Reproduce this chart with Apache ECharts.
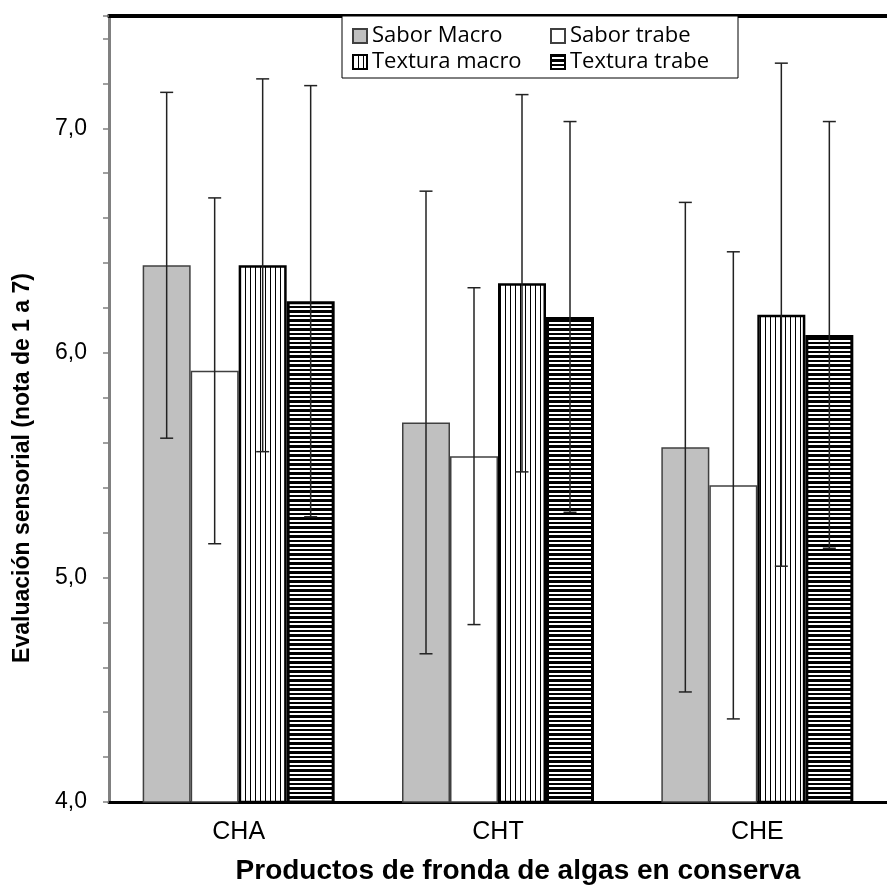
<!DOCTYPE html>
<html>
<head>
<meta charset="utf-8">
<script src="https://cdn.jsdelivr.net/npm/echarts@6/dist/echarts.min.js"></script>
<style>
html, body { margin: 0; padding: 0; background: #fff; }
#chart { width: 887px; height: 892px; }
</style>
</head>
<body>
<div id="chart"></div>
<script>
var categories = ['CHA', 'CHT', 'CHE'];
var saborMacro = [6.39, 5.69, 5.58];
var saborMacroErr = [0.77, 1.03, 1.09];
var saborTrabe = [5.92, 5.54, 5.41];
var saborTrabeErr = [0.77, 0.75, 1.04];
var texturaMacro = [6.39, 6.31, 6.17];
var texturaMacroErr = [0.83, 0.84, 1.12];
var texturaTrabe = [6.23, 6.16, 6.08];
var texturaTrabeErr = [0.96, 0.87, 0.95];
var seriesNames = ['Sabor Macro', 'Sabor trabe', 'Textura macro', 'Textura trabe'];

var BAR_W = 48;
var FONT = '"Liberation Sans", Arial, sans-serif';

// relleno con rayas (como en excel)
function makePattern(w, h, draw) {
    var c = document.createElement('canvas');
    c.width = w;
    c.height = h;
    var ctx = c.getContext('2d');
    ctx.fillStyle = '#fff';
    ctx.fillRect(0, 0, w, h);
    ctx.fillStyle = '#000';
    draw(ctx);
    return c;
}
var vertPattern = makePattern(5, 4, function (ctx) { ctx.fillRect(0, 0, 1, 4); });
var horizPattern = makePattern(4, 9, function (ctx) {
    ctx.fillRect(0, 0, 4, 2);
    ctx.fillRect(0, 4, 4, 3);
});

function barSeries(name, values, style) {
    return {
        name: name,
        type: 'bar',
        barWidth: BAR_W,
        barGap: '0%',
        data: values,
        itemStyle: style
    };
}

// barras de error (desviacion)
function errorSeries(means, errs, slot) {
    return {
        type: 'custom',
        name: 'err' + slot,
        z: 10,
        silent: true,
        data: means.map(function (m, i) { return [i, m, errs[i]]; }),
        renderItem: function (params, api) {
            var c = api.value(0), m = api.value(1), e = api.value(2);
            var x = api.coord([c, m])[0] + (slot - 1.5) * BAR_W;
            var hi = api.coord([c, m + e])[1];
            var lo = api.coord([c, m - e])[1];
            var st = { stroke: '#222', lineWidth: 1.5 };
            return {
                type: 'group',
                children: [
                    { type: 'line', shape: { x1: x, y1: hi, x2: x, y2: lo }, style: st },
                    { type: 'line', shape: { x1: x - 6.5, y1: hi, x2: x + 6.5, y2: hi }, style: st },
                    { type: 'line', shape: { x1: x - 6.5, y1: lo, x2: x + 6.5, y2: lo }, style: st }
                ]
            };
        }
    };
}

var option = {
    animation: false,
    backgroundColor: '#fff',
    grid: {
        left: 109,
        top: 16,
        width: 787,
        height: 786
    },
    legend: {
        data: seriesNames,
        left: 342,
        top: 16,
        orient: 'horizontal',
        width: 400,
        icon: 'rect',
        itemWidth: 14,
        itemHeight: 14,
        itemGap: 0,
        padding: [7, 6, 3, 10],
        borderColor: '#000',
        borderWidth: 1,
        backgroundColor: '#fff',
        formatter: function (name) {
            var i = seriesNames.indexOf(name);
            return (i % 2 === 0 ? '{a|' : '{b|') + name + '}';
        },
        textStyle: {
            fontFamily: '"Open Sans", sans-serif',
            fontSize: 22,
            lineHeight: 26,
            color: '#000',
            rich: {
                a: { width: 178, fontFamily: '"Open Sans", sans-serif', fontSize: 22, lineHeight: 26 },
                b: { width: 162, fontFamily: '"Open Sans", sans-serif', fontSize: 22, lineHeight: 26 }
            }
        }
    },
    xAxis: [{
        type: 'category',
        data: categories,
        name: 'Productos de fronda de algas en conserva',
        nameLocation: 'middle',
        nameGap: 55,
        nameTextStyle: {
            fontFamily: FONT,
            fontWeight: 'bold',
            fontSize: 28,
            color: '#000',
            padding: [0, 0, 0, 40]
        },
        axisLine: { lineStyle: { color: '#000', width: 3 } },
        axisTick: { length: 8, lineStyle: { color: '#808080', width: 1.5 } },
        axisLabel: {
            margin: 18,
            fontFamily: FONT,
            fontSize: 25,
            color: '#000'
        }
    }, {
        // linea negra de arriba
        type: 'category',
        data: categories,
        position: 'top',
        axisLine: { lineStyle: { color: '#000', width: 4 } },
        axisTick: { show: false },
        axisLabel: { show: false }
    }],
    yAxis: {
        type: 'value',
        min: 4,
        max: 7.5,
        interval: 0.2,
        name: 'Evaluación sensorial (nota de 1 a 7)',
        nameLocation: 'middle',
        nameGap: 75,
        nameTextStyle: {
            fontFamily: FONT,
            fontWeight: 'bold',
            fontSize: 23,
            color: '#000',
            padding: [0, 118, 0, 0]
        },
        axisLine: { show: true, lineStyle: { color: '#808080', width: 3 } },
        axisTick: { show: true, length: 6, lineStyle: { color: '#808080', width: 1.5 } },
        splitLine: { show: false },
        axisLabel: {
            margin: 22,
            fontFamily: FONT,
            fontSize: 23,
            color: '#000',
            formatter: function (v) {
                if (Math.abs(v - Math.round(v)) > 1e-6) return '';
                return v.toFixed(1).replace('.', ',');
            }
        }
    },
    series: [
        barSeries('Sabor Macro', saborMacro, { color: '#c0c0c0', borderColor: '#404040', borderWidth: 1.5 }),
        barSeries('Sabor trabe', saborTrabe, { color: '#fff', borderColor: '#404040', borderWidth: 1.5 }),
        barSeries('Textura macro', texturaMacro, { color: { image: vertPattern, repeat: 'repeat' }, borderColor: '#000', borderWidth: 2.5 }),
        barSeries('Textura trabe', texturaTrabe, { color: { image: horizPattern, repeat: 'repeat' }, borderColor: '#000', borderWidth: 3 }),
        errorSeries(saborMacro, saborMacroErr, 0),
        errorSeries(saborTrabe, saborTrabeErr, 1),
        errorSeries(texturaMacro, texturaMacroErr, 2),
        errorSeries(texturaTrabe, texturaTrabeErr, 3)
    ]
};

var chart = echarts.init(document.getElementById('chart'));
chart.setOption(option);
</script>
</body>
</html>
